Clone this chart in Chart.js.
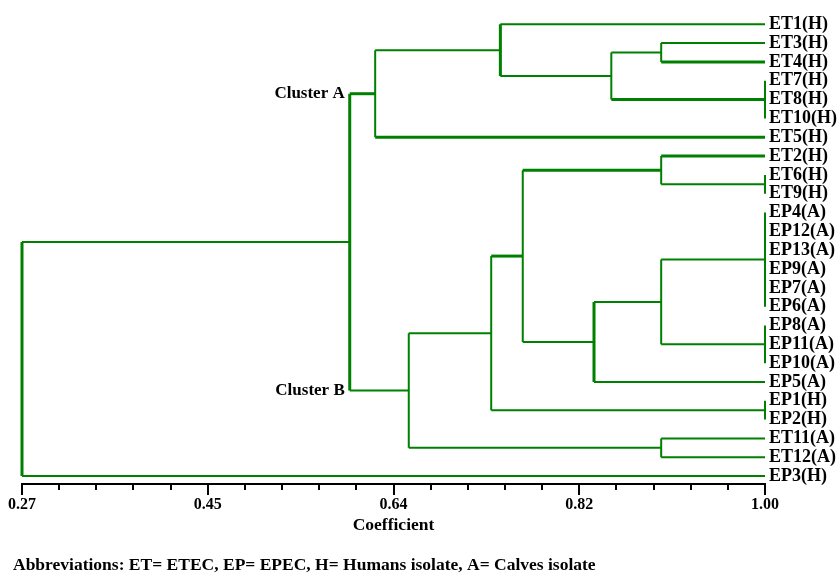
<!DOCTYPE html>
<html>
<head>
<meta charset="utf-8">
<script src="https://cdn.jsdelivr.net/npm/chart.js@4.4.1/dist/chart.umd.min.js"></script>
<style>
  html, body { margin: 0; padding: 0; background: #fff; }
  #wrap { width: 840px; height: 573px; position: relative; }
</style>
</head>
<body>
<div id="wrap"><canvas id="grafico"></canvas></div>
<script>
// leaves, top to bottom
const leaves = ["ET1(H)", "ET3(H)", "ET4(H)", "ET7(H)", "ET8(H)", "ET10(H)", "ET5(H)",
  "ET2(H)", "ET6(H)", "ET9(H)", "EP4(A)", "EP12(A)", "EP13(A)", "EP9(A)", "EP7(A)", "EP6(A)",
  "EP8(A)", "EP11(A)", "EP10(A)", "EP5(A)", "EP1(H)", "EP2(H)", "ET11(A)", "ET12(A)", "EP3(H)"];

// merges (children first), with the coefficient where they join
const nodeNames = ["ET7-10", "ET3-4", "ET3-10", "ET1-10", "A", "ET6-9", "ET2-9", "EP4-6",
  "EP8-10", "EP4-10", "EP4-5", "ET2-EP5", "EP1-2", "ET2-EP2", "ET11-12", "B", "AB", "root"];
const nodeMembers = [
  ["ET7(H)", "ET8(H)", "ET10(H)"],
  ["ET3(H)", "ET4(H)"],
  ["ET3-4", "ET7-10"],
  ["ET1(H)", "ET3-10"],
  ["ET1-10", "ET5(H)"],
  ["ET6(H)", "ET9(H)"],
  ["ET2(H)", "ET6-9"],
  ["EP4(A)", "EP12(A)", "EP13(A)", "EP9(A)", "EP7(A)", "EP6(A)"],
  ["EP8(A)", "EP11(A)", "EP10(A)"],
  ["EP4-6", "EP8-10"],
  ["EP4-10", "EP5(A)"],
  ["ET2-9", "EP4-5"],
  ["EP1(H)", "EP2(H)"],
  ["ET2-EP5", "EP1-2"],
  ["ET11(A)", "ET12(A)"],
  ["ET2-EP2", "ET11-12"],
  ["A", "B"],
  ["AB", "EP3(H)"]
];
const nodeHeights = [1.00, 0.898, 0.849, 0.740, 0.617, 1.00, 0.898, 1.00,
  1.00, 0.898, 0.832, 0.762, 1.00, 0.731, 0.898, 0.650, 0.592, 0.27];

const clusterNodes = ["A", "B"];
const clusterLabels = ["Cluster A", "Cluster B"];

const tickValues = [0.27, 0.4525, 0.635, 0.8175, 1.00];
const tickLabels = ["0.27", "0.45", "0.64", "0.82", "1.00"];
const minorPerMajor = 5;

// branches drawn heavier in the original
const heavyJoins = ["root", "AB", "ET1-10", "EP4-5"];
const heavyStems = ["A", "ET5(H)", "ET4(H)", "ET7-10", "ET2(H)", "ET2-9", "ET2-EP5"];

const verde = "#008000";
const serif = '"Liberation Serif", "Times New Roman", serif';

function linha(pts, heavy) {
  return {
    data: pts,
    showLine: true,
    borderColor: verde,
    backgroundColor: verde,
    borderWidth: heavy ? 3 : 2,
    pointRadius: 0,
    tension: 0,
    clip: false
  };
}

// positions of leaves and nodes
const pos = {};
leaves.forEach((l, i) => { pos[l] = { x: 1.00, y: i }; });

const datasets = [];
nodeNames.forEach((name, i) => {
  const h = nodeHeights[i];
  const kids = nodeMembers[i];
  const first = pos[kids[0]];
  const last = pos[kids[kids.length - 1]];
  datasets.push(linha([{ x: h, y: first.y }, { x: h, y: last.y }], heavyJoins.includes(name)));
  kids.forEach(k => {
    const p = pos[k];
    if (p.x !== h) datasets.push(linha([{ x: p.x, y: p.y }, { x: h, y: p.y }], heavyStems.includes(k)));
  });
  pos[name] = { x: h, y: (first.y + last.y) / 2 };
});

// x ticks: majors plus minor subdivisions
const xTicks = [];
tickValues.forEach((v, i) => {
  xTicks.push({ value: v, major: true, label: tickLabels[i] });
  if (i < tickValues.length - 1) {
    const step = (tickValues[i + 1] - v) / minorPerMajor;
    for (let k = 1; k < minorPerMajor; k++) xTicks.push({ value: v + k * step, major: false, label: "" });
  }
});

const extras = {
  id: "extras",
  afterDraw(chart) {
    const { ctx, scales: { x, y }, chartArea } = chart;
    ctx.save();
    // tick marks under the axis
    ctx.strokeStyle = "#000";
    ctx.lineWidth = 2;
    xTicks.forEach(t => {
      const px = Math.round(x.getPixelForValue(t.value));
      ctx.beginPath();
      ctx.moveTo(px, chartArea.bottom);
      ctx.lineTo(px, chartArea.bottom + (t.major ? 11 : 6));
      ctx.stroke();
    });
    // cluster labels
    ctx.fillStyle = "#000";
    ctx.font = "bold 17px " + serif;
    ctx.textAlign = "right";
    ctx.textBaseline = "middle";
    const parent = pos["AB"];
    clusterNodes.forEach((n, i) => {
      ctx.fillText(clusterLabels[i], x.getPixelForValue(parent.x) - 5, y.getPixelForValue(pos[n].y));
    });
    // footnote
    ctx.font = "bold 17.5px " + serif;
    ctx.textAlign = "left";
    ctx.fillText("Abbreviations: ET= ETEC, EP= EPEC, H= Humans isolate, A= Calves isolate", 13, 565);
    ctx.restore();
  }
};

new Chart(document.getElementById("grafico"), {
  type: "scatter",
  data: { datasets },
  plugins: [extras],
  options: {
    responsive: true,
    maintainAspectRatio: false,
    animation: false,
    layout: { padding: { left: 22, right: 0, top: 12, bottom: 36 } },
    plugins: { legend: { display: false }, tooltip: { enabled: false } },
    scales: {
      x: {
        type: "linear",
        position: "bottom",
        min: 0.27,
        max: 1.00,
        afterBuildTicks: s => { s.ticks = xTicks.map(t => ({ value: t.value })); },
        afterFit: s => { s.height = 53; s.paddingLeft = 0; s.paddingRight = 0; },
        grid: { display: false, drawTicks: false },
        border: { display: true, color: "#000", width: 2 },
        ticks: {
          autoSkip: false,
          maxRotation: 0,
          padding: 11,
          color: "#000",
          font: { family: serif, size: 16, weight: "bold" },
          callback: (v, i) => xTicks[i].label
        },
        title: {
          display: true,
          text: "Coefficient",
          color: "#000",
          padding: { top: 0, bottom: 1 },
          font: { family: serif, size: 17.5, weight: "bold" }
        }
      },
      y: {
        type: "linear",
        position: "right",
        reverse: true,
        min: -0.6,
        max: 24.42,
        afterBuildTicks: s => { s.ticks = leaves.map((l, i) => ({ value: i })); },
        afterFit: s => { s.width = 75; },
        grid: { display: false, drawTicks: false },
        border: { display: false },
        ticks: {
          autoSkip: false,
          padding: 4,
          color: "#000",
          font: { family: serif, size: 18, weight: "bold", lineHeight: 1 },
          callback: v => leaves[v]
        }
      }
    }
  }
});
</script>
</body>
</html>
